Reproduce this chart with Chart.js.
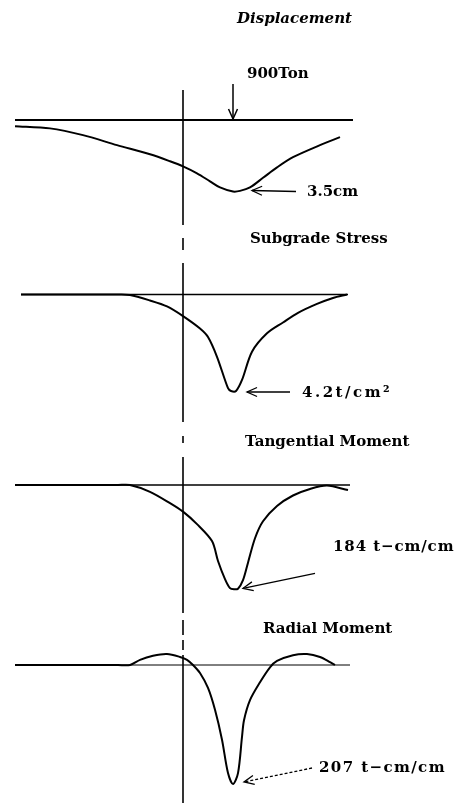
<!DOCTYPE html>
<html>
<head>
<meta charset="utf-8">
<title>Displacement, Subgrade Stress and Moments</title>
<script src="https://cdn.jsdelivr.net/npm/chart.js@4/dist/chart.umd.min.js"></script>
<style>
  html, body { margin: 0; padding: 0; background: #fff; }
  #wrap { position: relative; width: 462px; height: 806px; }
</style>
</head>
<body>
<div id="wrap"><canvas id="plateChart" width="462" height="806"></canvas></div>
<script>
// x: distance from the load point (load at 0, plate edge at -50)
const dispX = [-218, -183, -150, -116, -83, -63, -50, -36, -23, -13, 0, 7, 17, 30, 44, 60, 87, 107];
const dispY = [-0.30, -0.41, -0.74, -1.23, -1.68, -2.02, -2.27, -2.61, -3.0, -3.30, -3.5, -3.47, -3.30, -2.83, -2.32, -1.82, -1.23, -0.84];

const stressX = [-212, -115, -103, -83, -66, -50, -33, -25, -16, -5, -2, 3, 9, 19, 34, 50, 65, 84, 100, 114];
const stressY = [0, 0, -0.02, -0.26, -0.52, -0.94, -1.48, -1.85, -2.71, -4.08, -4.2, -4.2, -3.72, -2.49, -1.69, -1.22, -0.80, -0.41, -0.15, 0];

const tanX = [-218, -115, -103, -83, -63, -50, -36, -21, -15, -8, -3, 1, 5, 10, 15, 22, 30, 44, 60, 77, 94, 115];
const tanY = [0, 0, 0, -12, -32, -47, -69, -99, -134, -166, -182, -184, -183, -168, -137, -94, -64, -37, -18.5, -7, -1, -9];

const radX = [-218, -115, -103, -93, -80, -66, -53, -46, -40, -33, -25, -18, -11, -5, 0, 5, 9, 11, 17, 27, 37, 44, 60, 74, 87, 97, 102];
const radY = [0, 0, 0, 9, 16, 19, 14, 9, 0, -14, -40, -78, -130, -188, -207, -188, -125, -96, -61, -30, -4, 7, 17, 19, 14, 5, 0];

// zero lines
const dispBase = [-218, 120];
const stressBase = [-212, 115];
const tanBase = [-218, 117];
const radBase = [-218, 117];

const titles = ['Displacement', 'Subgrade Stress', 'Tangential Moment', 'Radial Moment'];
const units = ['cm', 't/cm²', ' t−cm/cm', ' t−cm/cm'];
const loadX = 0;
const loadLabel = '900Ton';
const edgeX = -50;

const H = 806;
const FONT = '"DejaVu Serif", serif';

// page layout: zero line and deepest point in px, text spots, arrow offsets
const panels = [
  { xs: dispX, ys: dispY, base: dispBase, baseWidth: 2, zero: 120, depth: 191.5,
    title: [237, 23], italic: true, label: [307, 196], spacing: 0, tip: [19, -1], tail: [44, 1], dashed: false },
  { xs: stressX, ys: stressY, base: stressBase, baseWidth: 1.5, zero: 294.5, depth: 391,
    title: [250, 243], label: [302, 397], spacing: 2.5, tip: [16, 1], tail: [43, 0], dashed: false },
  { xs: tanX, ys: tanY, base: tanBase, baseWidth: 1.5, zero: 485, depth: 589.3,
    title: [245, 446], label: [333, 551], spacing: 0.9, tip: [9, -1], tail: [72, -15], dashed: false },
  { xs: radX, ys: radY, base: radBase, baseWidth: 1, zero: 665, depth: 784,
    title: [263, 633], label: [319, 772], spacing: 1.4, tip: [11, -2], tail: [68, -14], dashed: true }
];

// edge line, broken where the titles sit
const edgeSegments = [[90, 225], [238, 250], [263, 422], [436, 443], [457, 613], [620, 635], [640, 650], [655, 803]];

function minOf(p) {
  let i = 0;
  p.ys.forEach((v, k) => { if (v < p.ys[i]) i = k; });
  return { x: p.xs[i], y: p.ys[i] };
}

const scales = { x: { type: 'linear', min: -220, max: 125, display: false } };
const datasets = [];
panels.forEach((p, i) => {
  const id = 'y' + (i + 1);
  const low = minOf(p);
  const s = (p.depth - p.zero) / Math.abs(low.y);
  scales[id] = { display: false, min: -(H - p.zero) / s, max: p.zero / s };
  datasets.push({
    label: titles[i],
    yAxisID: id,
    data: p.xs.map((x, k) => ({ x: x, y: p.ys[k] })),
    borderColor: '#000',
    borderWidth: 2,
    pointRadius: 0,
    fill: false,
    tension: 0.3
  });
  datasets.push({
    label: titles[i] + ' zero',
    yAxisID: id,
    data: p.base.map(x => ({ x: x, y: 0 })),
    borderColor: '#000',
    borderWidth: p.baseWidth,
    pointRadius: 0,
    fill: false
  });
});

function arrow(ctx, x1, y1, x2, y2, dashed) {
  const a = Math.atan2(y2 - y1, x2 - x1);
  ctx.save();
  if (dashed) ctx.setLineDash([3, 2]);
  ctx.beginPath();
  ctx.moveTo(x1, y1);
  ctx.lineTo(x2, y2);
  ctx.stroke();
  ctx.setLineDash([]);
  ctx.beginPath();
  ctx.moveTo(x2 - 11 * Math.cos(a - 0.42), y2 - 11 * Math.sin(a - 0.42));
  ctx.lineTo(x2, y2);
  ctx.lineTo(x2 - 11 * Math.cos(a + 0.42), y2 - 11 * Math.sin(a + 0.42));
  ctx.stroke();
  ctx.restore();
}

const figureMarks = {
  id: 'figureMarks',
  afterDatasetsDraw(chart) {
    const ctx = chart.ctx;
    const xs = chart.scales.x;
    ctx.save();
    ctx.strokeStyle = '#000';
    ctx.fillStyle = '#000';

    // plate edge
    const ex = xs.getPixelForValue(edgeX);
    ctx.lineWidth = 1.6;
    edgeSegments.forEach(seg => {
      ctx.beginPath();
      ctx.moveTo(ex, seg[0]);
      ctx.lineTo(ex, seg[1]);
      ctx.stroke();
    });

    // load
    const lx = xs.getPixelForValue(loadX);
    const ly = chart.scales.y1.getPixelForValue(0);
    ctx.lineWidth = 1.5;
    arrow(ctx, lx, ly - 36, lx, ly - 1, false);
    ctx.font = 'bold 15px ' + FONT;
    ctx.fillText(loadLabel, 247, 78);

    panels.forEach((p, i) => {
      const ys = chart.scales['y' + (i + 1)];
      const low = minOf(p);
      const tx = xs.getPixelForValue(low.x) + p.tip[0];
      const ty = ys.getPixelForValue(low.y) + p.tip[1];
      ctx.lineWidth = 1.3;
      arrow(ctx, tx + p.tail[0], ty + p.tail[1], tx, ty, p.dashed);

      ctx.letterSpacing = '0px';
      ctx.font = (p.italic ? 'italic ' : '') + 'bold 15px ' + FONT;
      ctx.fillText(titles[i], p.title[0], p.title[1]);
      ctx.font = 'bold 15px ' + FONT;
      ctx.letterSpacing = p.spacing + 'px';
      ctx.fillText(Math.abs(low.y) + units[i], p.label[0], p.label[1]);
    });
    ctx.restore();
  }
};

new Chart(document.getElementById('plateChart'), {
  type: 'line',
  data: { datasets: datasets },
  options: {
    responsive: false,
    animation: false,
    events: [],
    layout: { padding: { left: 13, right: 104, top: 0, bottom: 0 } },
    plugins: { legend: { display: false }, tooltip: { enabled: false } },
    scales: scales
  },
  plugins: [figureMarks]
});
</script>
</body>
</html>
